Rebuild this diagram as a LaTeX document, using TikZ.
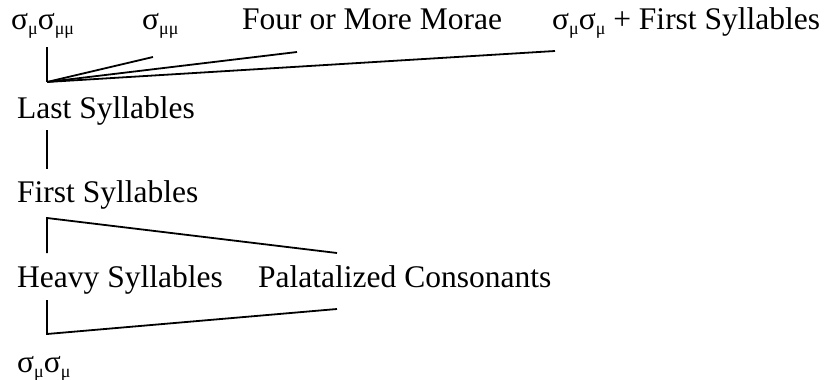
\documentclass[tikz,border=0pt]{standalone}
\usepackage{fontspec}
\setmainfont{Liberation Serif}
\newcommand{\mysub}[1]{\raisebox{-0.18em}{\fontsize{18}{20}\selectfont #1}}
\begin{document}
\begin{tikzpicture}[x=1pt,y=-1pt,
  lab/.style={anchor=base west,inner sep=0pt,font=\fontsize{31.5}{36}\selectfont},
  conn/.style={line width=1.8pt}]
\useasboundingbox (0,0) rectangle (831,380);
% labels
\node[lab] (t1) at (11,29) {σ\mysub{μ}σ\mysub{μμ}};
\node[lab] (t2) at (142,29) {σ\mysub{μμ}};
\node[lab] (t3) at (242,29) {Four or More Morae};
\node[lab] (t4) at (552,29) {σ\mysub{μ}σ\mysub{μ} + First Syllables};
\node[lab] (last) at (17,118) {Last Syllables};
\node[lab] (first) at (17,202) {First Syllables};
\node[lab] (heavy) at (17,287) {Heavy Syllables};
\node[lab] (pal) at (258,287) {Palatalized Consonants};
\node[lab] (bot) at (17,372) {σ\mysub{μ}σ\mysub{μ}};
% connector points
\coordinate (a0) at (47,47);
\coordinate (a1) at (47,82);
\coordinate (a2) at (153,57);
\coordinate (a3) at (297,52);
\coordinate (a4) at (555,51);
\coordinate (b0) at (47,130);
\coordinate (b1) at (47,169);
\coordinate (c0) at (47,218);
\coordinate (c1) at (47,253);
\coordinate (c2) at (337,253);
\coordinate (d0) at (47,300);
\coordinate (d1) at (47,334);
\coordinate (d2) at (337,309);
% connectors
\draw[conn] (a0) -- (a1);
\draw[conn] (a1) -- (a2);
\draw[conn] (a1) -- (a3);
\draw[conn] (a1) -- (a4);
\draw[conn] (b0) -- (b1);
\draw[conn] (c1) -- (c0) -- (c2);
\draw[conn] (d0) -- (d1) -- (d2);
\end{tikzpicture}
\end{document}
